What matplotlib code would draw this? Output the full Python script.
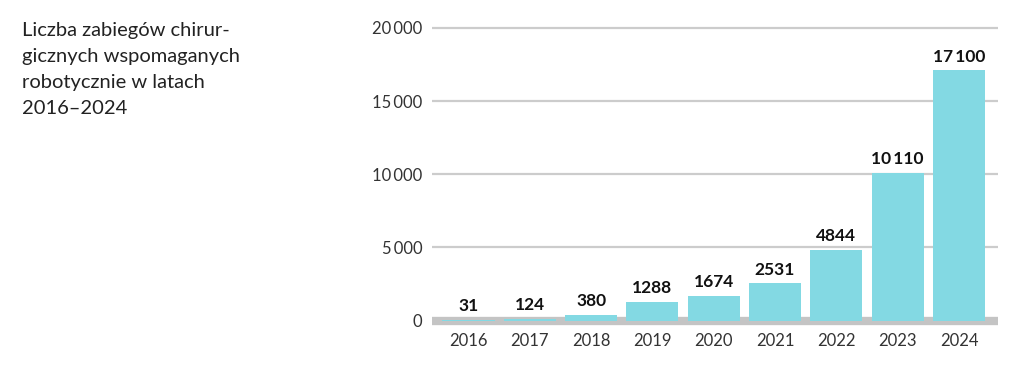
import matplotlib
matplotlib.use("Agg")
import matplotlib.pyplot as plt
from matplotlib.ticker import FuncFormatter

plt.rcParams['font.family'] = ['Lato', 'DejaVu Sans']

years = ["2016", "2017", "2018", "2019", "2020", "2021", "2022", "2023", "2024"]
values = [31, 124, 380, 1288, 1674, 2531, 4844, 10110, 17100]
yticks = [0, 5000, 10000, 15000, 20000]
title = "Liczba zabiegów chirur-\ngicznych wspomaganych\nrobotycznie w latach\n2016–2024"

bar_color = "#83d9e3"
grid_color = "#cccccc"
base_color = "#c4c4c4"

def fmt_bar(v):
    s = f"{int(v)}"
    if len(s) > 4:
        s = s[:-3] + "\u2009" + s[-3:]
    return s

def fmt_axis(v):
    s = f"{int(v)}"
    if len(s) > 3:
        s = s[:-3] + "\u2009" + s[-3:]
    return s

W, H = 1024, 369
fig = plt.figure(figsize=(W / 100, H / 100), dpi=100)
ax = fig.add_axes([432 / W, 1 - 320.5 / H, (998 - 432) / W, (320.5 - 28) / H])

x = list(range(len(years)))
ax.bar(x, values, width=0.85, color=bar_color, zorder=3)
ax.set_xlim(-0.595, 8.636)
ax.set_ylim(0, 20000)

for yv in yticks[1:]:
    ax.axhline(yv, color=grid_color, lw=1.6, zorder=1, clip_on=False,
               solid_capstyle="butt")
ax.axhline(0, color=base_color, lw=6, zorder=2, clip_on=False,
           solid_capstyle="butt")

for xi, v in zip(x, values):
    ax.annotate(fmt_bar(v), (xi, v), xytext=(0, 4), textcoords="offset points",
                ha="center", va="bottom", fontsize=12.5, fontweight="bold", color="#111111")

ax.set_xticks(x)
ax.set_xticklabels(years)
ax.set_yticks(yticks)
ax.yaxis.set_major_formatter(FuncFormatter(lambda v, p: fmt_axis(v)))
ax.tick_params(axis="both", length=0, labelsize=12, colors="#333333")
ax.tick_params(axis="x", pad=9)
ax.tick_params(axis="y", pad=7)
for s in ax.spines.values():
    s.set_visible(False)

fig.text(22 / W, 1 - 22 / H, title, ha="left", va="top", fontsize=14.5,
         color="#222222", linespacing=1.65)

fig.savefig("out.png", dpi=100)
